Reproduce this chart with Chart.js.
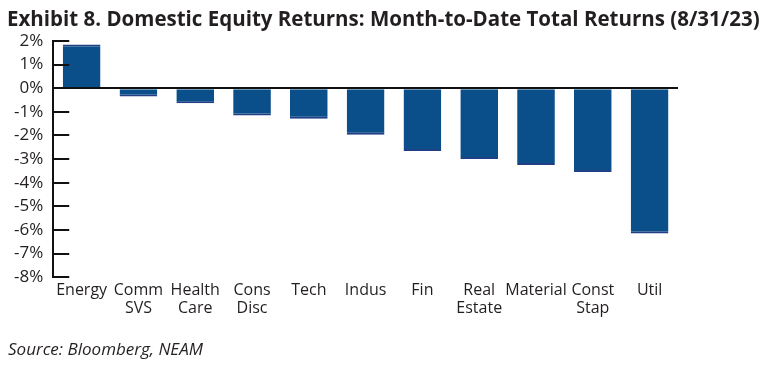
<!DOCTYPE html>
<html>
<head>
<meta charset="utf-8">
<script src="https://cdn.jsdelivr.net/npm/chart.js@4/dist/chart.umd.min.js"></script>
<style>
  html, body { margin: 0; padding: 0; background: #ffffff; }
  #wrap { position: relative; width: 766px; height: 368px; overflow: hidden; }
  #c { position: absolute; left: 0; top: 0; }
  #title { position: absolute; left: 7px; top: 4px; margin: 0; white-space: nowrap;
           font-family: "Open Sans", "Noto Sans", sans-serif; font-weight: 700; font-size: 20.5px;
           line-height: 28px; color: #231f20; }
  #source { position: absolute; left: 8px; top: 337px; margin: 0; white-space: nowrap;
            font-family: "Open Sans", "Noto Sans", sans-serif; font-style: italic; font-size: 17px;
            line-height: 24px; color: #231f20; }
</style>
</head>
<body>
<div id="wrap">
  <canvas id="c" width="766" height="368"></canvas>
  <div id="title"></div>
  <div id="source"></div>
</div>
<script>
const categories = [["Energy"], ["Comm", "SVS"], ["Health", "Care"], ["Cons", "Disc"], ["Tech"], ["Indus"], ["Fin"], ["Real", "Estate"], ["Material"], ["Const", "Stap"], ["Util"]];
const returnsPct = [1.85, -0.35, -0.64, -1.15, -1.29, -1.97, -2.66, -3.0, -3.25, -3.55, -6.15];
const yTicks = [2, 1, 0, -1, -2, -3, -4, -5, -6, -7, -8];
const titleText = "Exhibit 8. Domestic Equity Returns: Month-to-Date Total Returns (8/31/23)";
const sourceText = "Source: Bloomberg, NEAM";

document.getElementById('title').textContent = titleText;
document.getElementById('source').textContent = sourceText;

const TEXT = '#231f20';
const FONT = '"Open Sans", "Noto Sans", sans-serif';

const innerTicks = {
  id: 'innerTicks',
  afterDatasetsDraw(chart) {
    const y = chart.scales.y;
    const ctx = chart.ctx;
    const left = chart.chartArea.left;
    ctx.save();
    ctx.strokeStyle = '#111111';
    ctx.lineWidth = 2;
    y.ticks.forEach(t => {
      const py = Math.round(y.getPixelForValue(t.value));
      ctx.beginPath();
      ctx.moveTo(left, py);
      ctx.lineTo(left + 16, py);
      ctx.stroke();
    });
    ctx.restore();
  }
};

new Chart(document.getElementById('c'), {
  type: 'bar',
  data: {
    labels: categories,
    datasets: [{
      data: returnsPct,
      backgroundColor: '#0a4e8a',
      borderColor: '#203f85',
      borderWidth: { top: 2, bottom: 2, left: 0, right: 0 },
      barPercentage: 0.8,
      categoryPercentage: 0.83
    }]
  },
  options: {
    responsive: false,
    animation: false,
    layout: { padding: { left: 4, right: 88, top: 41, bottom: 46 } },
    plugins: {
      legend: { display: false },
      tooltip: { enabled: false },
      title: { display: false }
    },
    scales: {
      y: {
        min: -8,
        max: 2,
        afterBuildTicks(scale) { scale.ticks = yTicks.map(v => ({ value: v })); },
        ticks: {
          color: TEXT,
          font: { family: FONT, size: 17 },
          padding: 10,
          autoSkip: false,
          callback: v => v + '%'
        },
        grid: {
          drawTicks: false,
          drawOnChartArea: true,
          color: c => (c.tick && c.tick.value === 0) ? '#111111' : 'rgba(0,0,0,0)',
          lineWidth: 2
        },
        border: { display: true, color: '#111111', width: 2 }
      },
      x: {
        grid: { display: false, drawTicks: false },
        border: { display: false },
        ticks: {
          color: TEXT,
          font: { family: FONT, size: 16, lineHeight: 1.15 },
          padding: 4,
          maxRotation: 0,
          autoSkip: false
        }
      }
    }
  },
  plugins: [innerTicks]
});
</script>
</body>
</html>
